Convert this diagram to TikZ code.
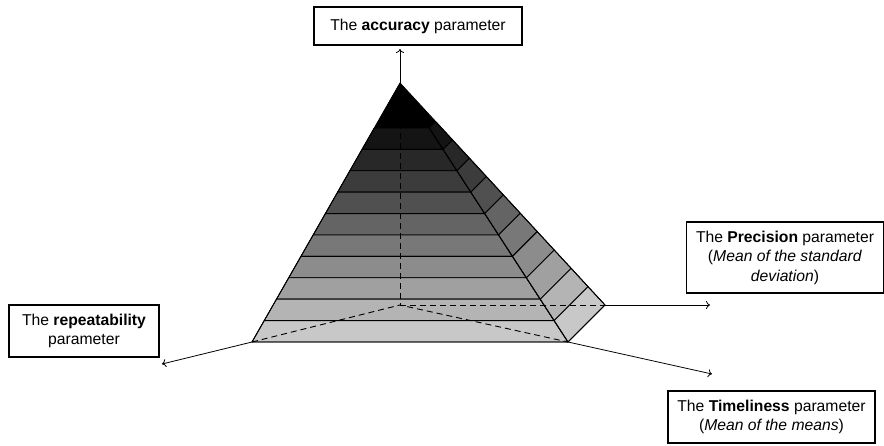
\documentclass[tikz,border=0pt]{standalone}
\usepackage{fontspec}
\setmainfont{Liberation Sans}
\usetikzlibrary{calc,arrows.meta}
\tikzset{
  box/.style={draw,line width=1.1pt,align=center,inner sep=0pt,
    font=\fontsize{15.7}{19.5}\selectfont},
  edge/.style={line width=0.9pt,line join=round},
  hidden/.style={line width=0.9pt,dash pattern=on 6pt off 4pt},
  arr/.style={line width=0.8pt,-{To[length=4pt,width=8pt]}}
}
\begin{document}
\begin{tikzpicture}[x=1pt,y=-1pt]
\useasboundingbox (0,0) rectangle (884,445);
% pyramid vertices
\coordinate (A) at (400,83);
\coordinate (L) at (252,342);
\coordinate (F) at (568,342);
\coordinate (R) at (605,305);
\coordinate (B) at (400,305);
% top black cap
\fill[black] (A) -- ($(A)!0.1737!(L)$) -- ($(A)!0.1737!(F)$) -- ($(A)!0.1737!(R)$) -- cycle;
% bands
\foreach \k [evaluate=\k as \ta using 0.1737+0.08263*\k,
             evaluate=\k as \tb using 0.1737+0.08263*(\k+1),
             evaluate=\k as \g using int(20+20*\k)] in {0,...,9}{
  \filldraw[edge,fill={rgb,255:red,\g;green,\g;blue,\g}]
    ($(A)!\ta!(L)$) -- ($(A)!\ta!(F)$) -- ($(A)!\tb!(F)$) -- ($(A)!\tb!(L)$) -- cycle;
  \filldraw[edge,fill={rgb,255:red,\g;green,\g;blue,\g}]
    ($(A)!\ta!(F)$) -- ($(A)!\ta!(R)$) -- ($(A)!\tb!(R)$) -- ($(A)!\tb!(F)$) -- cycle;
}
% outline
\draw[edge] (A) -- (L) -- (F) -- (R) -- cycle;
\draw[edge] (A) -- (F);
% hidden edges
\draw[hidden] (A) -- (B);
\draw[hidden] (L) -- (B) -- (F);
\draw[hidden] (B) -- (R);
% boxes
\node[box,minimum width=208pt,minimum height=38pt] (acc) at (418,26)
  {The \textbf{accuracy} parameter};
\node[box,minimum width=150pt,minimum height=52pt] (rep) at (84,331)
  {The \textbf{repeatability}\\parameter};
\node[box,minimum width=197pt,minimum height=71pt] (prec) at (785,257.5)
  {The \textbf{Precision} parameter\\(\textit{Mean of the standard}\\\textit{deviation})};
\node[box,minimum width=207pt,minimum height=52pt] (time) at (771.5,417)
  {The \textbf{Timeliness} parameter\\(\textit{Mean of the means})};
% arrow ends
\coordinate (accTip) at (400,49);
\coordinate (repTip) at (162,364);
\coordinate (precTip) at (710,305);
\coordinate (timeTip) at (712,374);
\draw[arr] (A) -- (accTip);
\draw[arr] (L) -- (repTip);
\draw[arr] (R) -- (precTip);
\draw[arr] (F) -- (timeTip);
\end{tikzpicture}
\end{document}
